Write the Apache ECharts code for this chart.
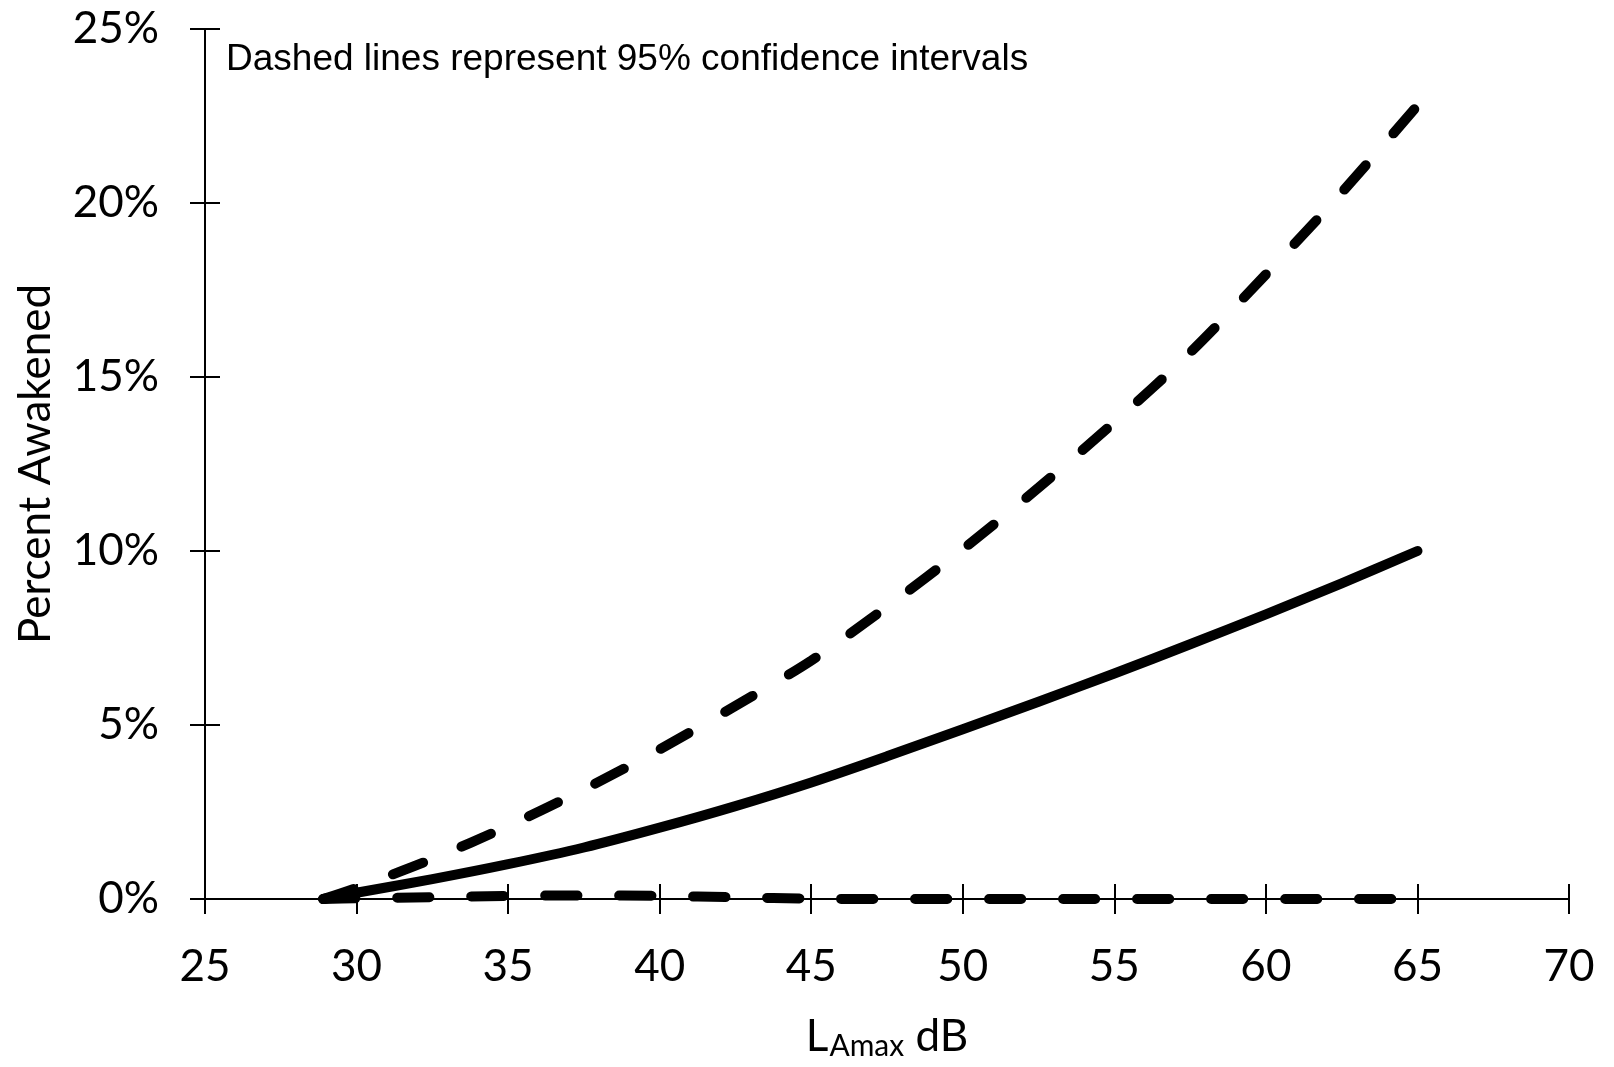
<!DOCTYPE html>
<html>
<head>
<meta charset="utf-8">
<script src="https://cdn.jsdelivr.net/npm/echarts@6/dist/echarts.min.js"></script>
<style>
  html, body { margin: 0; padding: 0; background: #fff; }
  #main { width: 1614px; height: 1067px; }
</style>
</head>
<body>
<div id="main"></div>
<script>
// 数据 (LAmax dB, 百分比)
var lamax = [28.9, 30, 32.5, 35, 37.5, 40, 42.5, 45, 47.5, 50, 52.5, 55, 57.5, 60, 62.5, 65];
var fitted = [0, 0.18, 0.57, 1.0, 1.48, 2.05, 2.67, 3.35, 4.1, 4.88, 5.67, 6.48, 7.32, 8.18, 9.07, 10.0];
var upper95 = [0, 0.32, 1.15, 2.1, 3.15, 4.3, 5.55, 6.85, 8.4, 10.05, 11.82, 13.7, 15.7, 17.95, 20.3, 22.8];
var lower95 = [0, 0.02, 0.05, 0.09, 0.1, 0.09, 0.05, 0.01, 0, 0, 0, 0, 0, 0, 0, 0];
var xMin = 25, xMax = 70, xStep = 5;
var yMin = 0, yMax = 25, yStep = 5;
var note = 'Dashed lines represent 95% confidence intervals';

function pairs(ys) {
  return lamax.map(function (x, i) { return [x, ys[i]]; });
}

var myChart = echarts.init(document.getElementById('main'));

var font = 'Lato, "Noto Sans", sans-serif';
var axisColor = '#000';

var option = {
  animation: false,
  backgroundColor: '#fff',
  grid: { left: 205, right: 45, top: 29, bottom: 168, outerBoundsMode: 'none', containLabel: false },
  xAxis: [{
    type: 'value', min: xMin, max: xMax, interval: xStep,
    splitLine: { show: false },
    axisLine: { lineStyle: { color: axisColor, width: 2 } },
    axisTick: { length: 15, lineStyle: { color: axisColor, width: 2 } },
    axisLabel: { color: '#000', fontSize: 44, fontFamily: font, margin: 46 },
    name: '{a|L}{b|Amax}{a| dB}',
    nameLocation: 'middle',
    nameGap: 114,
    nameTextStyle: {
      rich: {
        a: { fontSize: 44, fontFamily: font, color: '#000' },
        b: { fontSize: 30, fontFamily: font, color: '#000', padding: [18, 0, 0, 1] }
      }
    }
  }, {
    // 向内的刻度线
    type: 'value', min: xMin, max: xMax, interval: xStep, position: 'bottom',
    splitLine: { show: false }, axisLine: { show: false }, axisLabel: { show: false },
    axisTick: { inside: true, length: 15, lineStyle: { color: axisColor, width: 2 } }
  }],
  yAxis: [{
    type: 'value', min: yMin, max: yMax, interval: yStep,
    splitLine: { show: false },
    axisLine: { show: true, lineStyle: { color: axisColor, width: 2 } },
    axisTick: { show: true, length: 15, lineStyle: { color: axisColor, width: 2 } },
    axisLabel: { color: '#000', fontSize: 44, fontFamily: font, margin: 46, formatter: '{value}%' },
    name: 'Percent Awakened',
    nameLocation: 'middle',
    nameGap: 147,
    nameTextStyle: { fontSize: 44, fontFamily: font, color: '#000' }
  }, {
    type: 'value', min: yMin, max: yMax, interval: yStep, position: 'left',
    splitLine: { show: false }, axisLine: { show: false }, axisLabel: { show: false },
    axisTick: { show: true, inside: true, length: 15, lineStyle: { color: axisColor, width: 2 } }
  }],
  graphic: [{
    type: 'text', left: 226, top: 41,
    style: { text: note, fontSize: 37, fontFamily: '"Liberation Sans", Arial, sans-serif', fill: '#000' }
  }],
  series: [{
    name: 'fitted', type: 'line', data: pairs(fitted), smooth: 0.3, symbol: 'none',
    lineStyle: { color: '#000', width: 10, cap: 'round', join: 'round' }
  }, {
    name: 'upper', type: 'line', data: pairs(upper95), smooth: 0.3, symbol: 'none',
    lineStyle: { color: '#000', width: 10, type: [32, 42], cap: 'round' }
  }, {
    name: 'lower', type: 'line', data: pairs(lower95), smooth: 0.3, symbol: 'none',
    lineStyle: { color: '#000', width: 10, type: [32, 42], cap: 'round' }
  }]
};

myChart.setOption(option);
</script>
</body>
</html>
